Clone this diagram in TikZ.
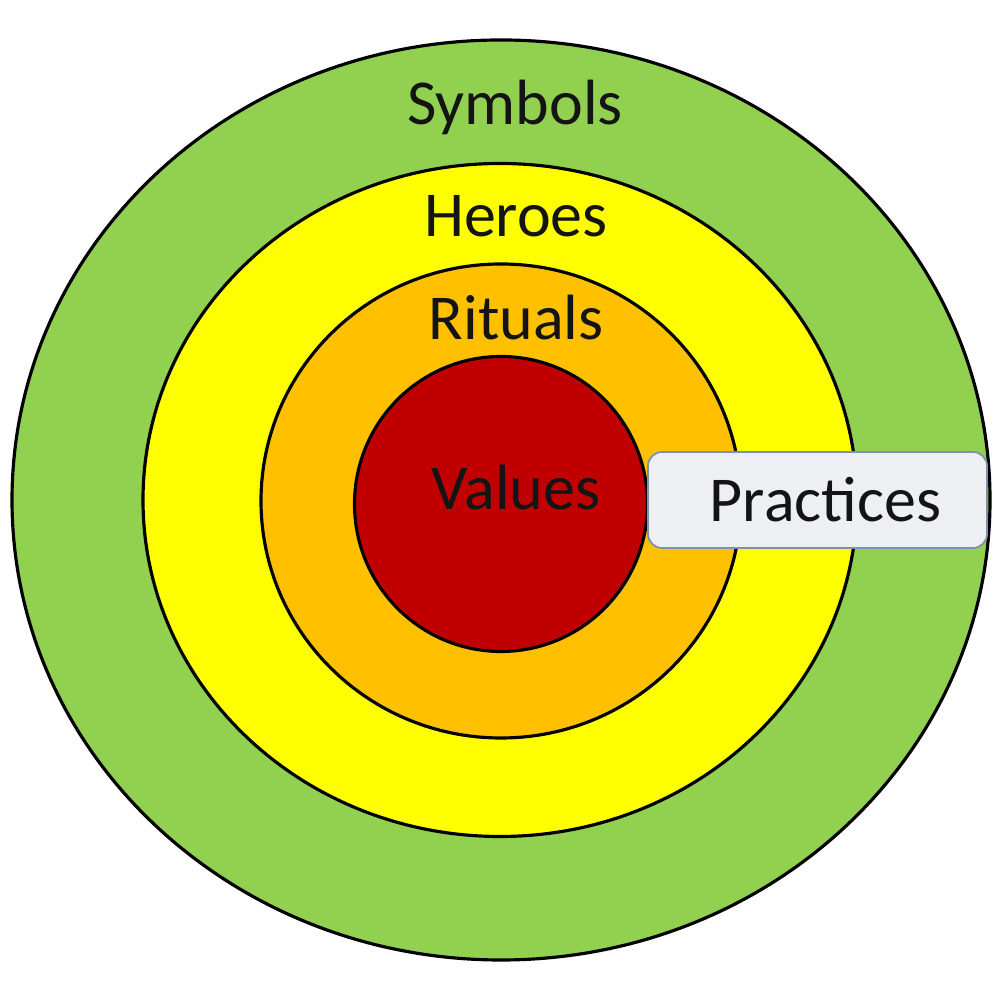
\documentclass[tikz,border=0pt]{standalone}
\usepackage{fontspec}
\setmainfont{Carlito}
\usepackage{xcolor}
\usetikzlibrary{shapes.geometric}
\definecolor{symgreen}{HTML}{92D050}
\definecolor{heroyellow}{HTML}{FFFF00}
\definecolor{ritorange}{HTML}{FFC000}
\definecolor{valred}{HTML}{C00000}
\definecolor{boxgray}{HTML}{EEEFF2}
\definecolor{boxline}{HTML}{7F8FAF}
\definecolor{textdark}{HTML}{141414}
\tikzset{
  ring/.style={draw=black, ellipse, line width=0.9pt, inner sep=0pt},
  layerlabel/.style={anchor=base, text=textdark, font=\fontsize{18.2}{22}\selectfont, inner sep=0pt},
  practicebox/.style={draw=boxline, line width=0.5pt, rounded corners=4pt, fill=boxgray,
    minimum width=3.39cm, minimum height=0.96cm, inner sep=0pt, text=textdark,
    font=\fontsize{18.2}{22}\selectfont}
}

\begin{document}
\begin{tikzpicture}
  \useasboundingbox (0,0) rectangle (10,10);

  \node[ring, fill=symgreen, minimum width=9.78cm, minimum height=9.2cm] (symbols) at (5.01,5.00) {};
  \node[ring, fill=heroyellow, minimum width=7.14cm, minimum height=6.73cm] (heroes) at (5.00,5.00) {};
  \node[ring, fill=ritorange, minimum width=4.80cm, minimum height=4.74cm] (rituals) at (5.01,4.99) {};
  \node[ring, fill=valred, minimum width=2.93cm, minimum height=2.95cm] (values) at (5.01,4.96) {};

  \node[layerlabel] (symbolstext) at (5.15,8.75) {Symbols};
  \node[layerlabel] (heroestext) at (5.16,7.63) {Heroes};
  \node[layerlabel] (ritualstext) at (5.16,6.60) {Rituals};
  \node[layerlabel] (valuestext) at (5.16,4.90) {Values};

  \node[practicebox] (practices) at (8.175,5.00) {\hspace{0.16cm}Practices};
\end{tikzpicture}
\end{document}
